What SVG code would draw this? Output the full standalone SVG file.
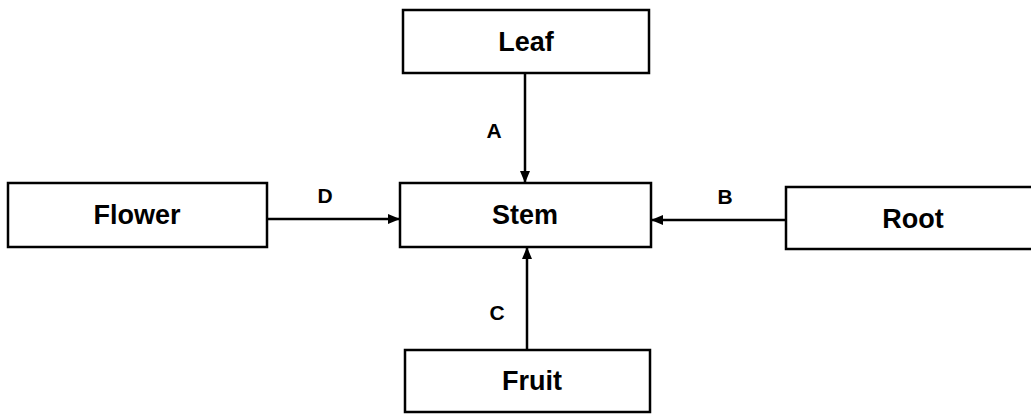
<svg xmlns="http://www.w3.org/2000/svg" width="1031" height="415" viewBox="0 0 1031 415">
<defs>
<style>
.box{fill:#fff;stroke:#000;stroke-width:2.5}
.t{font-family:"Liberation Sans",Arial,sans-serif;font-size:27px;text-anchor:middle;fill:#000;font-weight:bold}
.l{font-family:"Liberation Sans",Arial,sans-serif;font-size:21px;font-weight:bold;text-anchor:middle;fill:#000}
.c{stroke:#000;stroke-width:2.5;fill:none}
</style>
<marker id="ah" viewBox="0 0 12 10" refX="12" refY="5" markerWidth="12" markerHeight="10" markerUnits="userSpaceOnUse" orient="auto">
<path d="M0,0 L12,5 L0,10 Z" fill="#000"/>
</marker>
</defs>
<rect width="1031" height="415" fill="#fff"/>
<g id="connectors">
<line class="c" x1="525" y1="73" x2="525" y2="183" marker-end="url(#ah)"/>
<line class="c" x1="267" y1="219" x2="400" y2="219" marker-end="url(#ah)"/>
<line class="c" x1="786" y1="220" x2="651" y2="220" marker-end="url(#ah)"/>
<line class="c" x1="527" y1="350" x2="527" y2="247" marker-end="url(#ah)"/>
<text class="l" x="494" y="138">A</text>
<text class="l" x="725" y="204">B</text>
<text class="l" x="497" y="320">C</text>
<text class="l" x="325" y="203">D</text>
</g>
<g id="leaf"><rect class="box" x="403" y="10" width="246" height="63"/><text class="t" x="526" y="51">Leaf</text></g>
<g id="flower"><rect class="box" x="8" y="183" width="259" height="64"/><text class="t" x="137" y="224">Flower</text></g>
<g id="stem"><rect class="box" x="400" y="183" width="251" height="64"/><text class="t" x="525" y="224">Stem</text></g>
<g id="root"><rect class="box" x="786" y="187" width="250" height="62"/><text class="t" x="913" y="228">Root</text></g>
<g id="fruit"><rect class="box" x="405" y="350" width="245" height="62"/><text class="t" x="532" y="390">Fruit</text></g>
</svg>
